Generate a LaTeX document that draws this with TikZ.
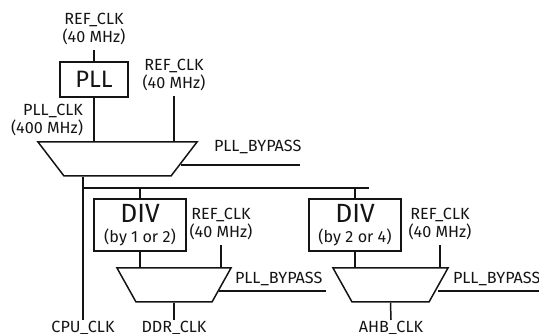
\documentclass[tikz,border=0pt]{standalone}
\usepackage{fontspec}
\setmainfont{Fira Sans}
\usetikzlibrary{shapes.geometric}
\definecolor{cEdge}{RGB}{20,20,20}

\begin{document}
\begin{tikzpicture}[
  x=1cm,y=1cm, font=\fontsize{9.2}{10.2}\selectfont, color=cEdge, line width=0.85pt,
  box/.style={draw, align=center, inner sep=0pt, text=cEdge},
  mux/.style={draw, trapezium, shape border rotate=180, trapezium stretches body=true,
              inner xsep=0pt, inner ysep=0.34cm},
  lbl/.style={align=center, inner sep=0pt, outer sep=0pt, text=cEdge},
  refclk/.style={lbl, anchor=south, inner ysep=3.2pt},
  big/.style={font=\fontsize{13.5}{14}\selectfont},
]
\useasboundingbox (0,0) rectangle (10.78,6.68);

% rows: 6.08 / 5.09 / 3.50 / 2.18 / 0.98 / 0.10
\node[box,big,minimum width=1.36cm,minimum height=0.70cm] (pll) at (1.88,5.09) {PLL};
\node[box,minimum width=1.84cm,minimum height=1.04cm] (diva) at (2.80,2.18)
     {{\fontsize{15}{15}\selectfont DIV}\\[1pt](by 1 or 2)};
\node[box,minimum width=1.84cm,minimum height=1.04cm] (divb) at (7.10,2.18)
     {{\fontsize{15}{15}\selectfont DIV}\\[1pt](by 2 or 4)};
\node[mux,minimum width=3.18cm,trapezium angle=52.6] (muxa) at (2.35,3.50) {};
\node[mux,minimum width=2.28cm,trapezium angle=60.8] (muxb) at (3.48,0.98) {};
\node[mux,minimum width=2.30cm,trapezium angle=60.8] (muxc) at (7.81,0.98) {};

\node[refclk] (refa) at (1.88,5.68) {REF\_CLK\\(40 MHz)};
\node[refclk] (refb) at (3.48,4.76) {REF\_CLK\\(40 MHz)};
\node[refclk] (refc) at (4.42,1.78) {REF\_CLK\\(40 MHz)};
\node[refclk] (refd) at (8.80,1.78) {REF\_CLK\\(40 MHz)};
\node[lbl,align=right,anchor=east] (pllclk) at (1.66,4.28) {PLL\_CLK\\(400 MHz)};
\node[lbl,anchor=west] (bypa) at (4.28,3.74) {PLL\_BYPASS};
\node[lbl,anchor=west] (bypb) at (4.70,1.10) {PLL\_BYPASS};
\node[lbl,anchor=west] (bypc) at (9.06,1.10) {PLL\_BYPASS};
\node[lbl] (cpuclk) at (1.66,0.13) {CPU\_CLK};
\node[lbl] (ddrclk) at (3.48,0.13) {DDR\_CLK};
\node[lbl] (ahbclk) at (7.82,0.13) {AHB\_CLK};

\coordinate (tap)    at (1.66,2.92);
\coordinate (busend) at (7.38,2.92);
\coordinate (cpuend) at (1.66,0.28);
\coordinate (ddrend) at (3.48,0.28);
\coordinate (ahbend) at (7.82,0.28);
\coordinate (enda)   at (6.00,3.38);
\coordinate (endb)   at (6.52,0.86);
\coordinate (endc)   at (10.78,0.86);

% ----- top mux ----------
\draw (refa.south) -- (pll.north);
\draw (pll.south) -- (pll.south |- muxa.north);
\draw (refb.south) -- (refb.south |- muxa.north);
\draw (enda) -- (3.62,3.38);

% ----- clock bus ----------
\draw (tap |- muxa.south) -- (cpuend);
\draw (tap) -- (busend);
\draw (tap -| diva.north) -- (diva.north);
\draw (tap -| divb.north) -- (divb.north);

% ----- lower muxes ----------
\draw (diva.south) -- (diva.south |- muxb.north);
\draw (refc.south) -- (refc.south |- muxb.north);
\draw (endb) -- (4.38,0.86);
\draw (muxb.south) -- (ddrend);
\draw (divb.south) -- (divb.south |- muxc.north);
\draw (refd.south) -- (refd.south |- muxc.north);
\draw (endc) -- (8.76,0.86);
\draw (muxc.south) -- (ahbend);

\end{tikzpicture}
\end{document}
